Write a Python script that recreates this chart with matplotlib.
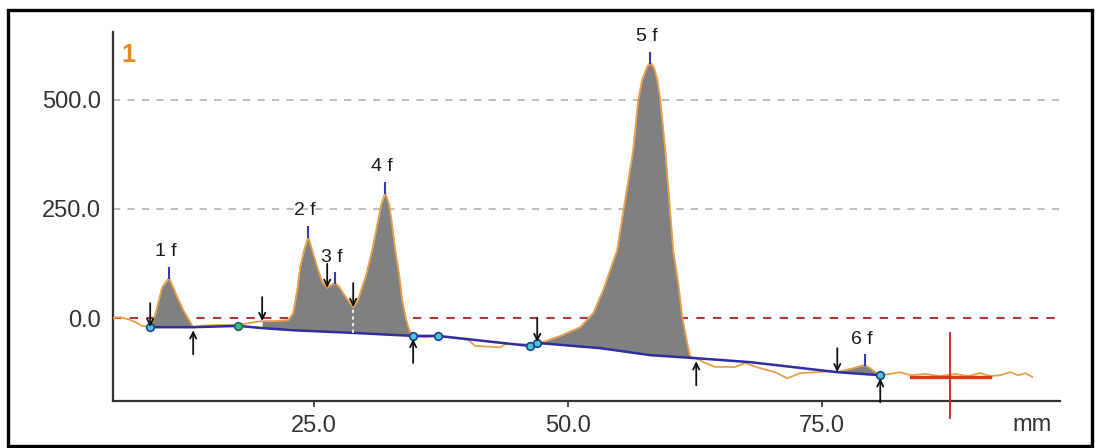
import numpy as np
import matplotlib
matplotlib.use("Agg")
import matplotlib.pyplot as plt
from matplotlib.patches import Rectangle

# ---------------- data ----------------
signal_mm = [5.22, 5.91, 6.59, 7.38, 8.07, 8.86,
             9.35, 10.04, 10.73, 11.52, 12.20, 12.80, 13.09,
             13.78, 15.26, 17.52, 18.70, 19.88, 21.16, 22.44,
             22.93, 23.33, 23.62, 24.02, 24.41, 24.80, 25.30, 25.79, 26.28,
             26.67, 27.07, 27.46, 27.85, 28.54, 28.84,
             29.23, 29.53, 30.12, 30.71, 31.20, 31.59, 31.99, 32.38, 32.68, 32.97,
             33.37, 33.66, 34.06, 34.45, 34.74,
             35.93, 37.20, 38.88, 40.16, 40.85, 43.31, 43.80, 46.26, 46.95,
             47.54, 49.21, 51.18, 52.46, 53.44, 54.13, 54.82, 55.61, 56.40, 56.89,
             57.28, 57.78, 58.07, 58.46, 58.76, 59.06, 59.55, 59.94, 60.33, 60.83,
             61.22, 61.71, 62.01, 62.60,
             63.48, 64.47, 66.44, 67.42, 68.90, 70.37, 71.56, 72.83, 74.51, 75.79, 76.48,
             77.26, 78.05, 78.74, 79.23, 79.72, 80.22, 80.71,
             81.69, 82.68, 83.66, 85.14, 86.61, 88.09, 89.37, 90.55, 91.54, 92.52,
             93.50, 94.29, 94.98, 95.67]
signal_val = [0, 2, -2, -9, -18, -21,
              7, 71, 92, 48, 14, -9, -21,
              -18, -16, -16, -11, -7, -7, -5,
              11, 64, 117, 156, 186, 156, 117, 83, 69,
              76, 80, 71, 57, 34, 25,
              37, 57, 99, 156, 213, 259, 287, 259, 213, 156,
              99, 41, -5, -34, -41,
              -44, -41, -46, -50, -64, -67, -60, -60, -55,
              -55, -41, -21, 11, 64, 110, 156, 271, 385, 500,
              546, 576, 585, 573, 546, 500, 385, 271, 156, 80,
              2, -57, -89, -92,
              -103, -112, -112, -103, -115, -124, -138, -126, -124, -122, -124,
              -119, -115, -110, -108, -115, -124, -131,
              -128, -124, -131, -128, -133, -128, -133, -126, -133, -131,
              -124, -131, -126, -135]

baseline_mm = [8.86, 13.09, 17.52, 19.88, 22.93, 28.84, 34.74, 37.20,
               46.26, 46.95, 53.15, 58.07, 62.60, 67.90, 76.48, 80.71]
baseline_val = [-21, -21, -18, -23, -28, -34, -41, -41,
                -64, -57, -69, -85, -92, -101, -124, -131]

peak_regions = [(8.86, 13.09), (19.88, 34.74), (46.95, 62.60), (76.48, 80.71)]

peak_labels = ["1 f", "2 f", "3 f", "4 f", "5 f", "6 f"]
peak_mm = [10.73, 24.41, 27.07, 31.99, 58.07, 79.23]
peak_val = [92, 186, 80, 287, 585, -108]

start_mm = [8.86, 19.88, 26.28, 28.84, 46.95, 76.48]   # down arrows
end_mm = [13.09, 34.74, 62.60, 80.71]                  # up arrows
drop_mm = [28.84]

marker_mm = [8.86, 34.74, 37.20, 46.26, 46.95, 80.71]
green_marker_mm = [17.52]

x_ticks = [25, 50, 75]
x_ticklabels = ["25.0", "50.0", "75.0"]
y_ticks = [0, 250, 500]
y_ticklabels = ["0.0", "250.0", "500.0"]

cursor_mm = 87.6
cursor_hspan = (83.7, 91.5)
cursor_val = -135

# ---------------- figure ----------------
plt.rcParams['font.family'] = ['Liberation Sans', 'DejaVu Sans']
W, H = 1099, 448
fig = plt.figure(figsize=(W / 100, H / 100), dpi=100)
fig.patch.set_facecolor('white')
ax = fig.add_axes([113 / W, 1 - 401 / H, (1060 - 113) / W, (401 - 32) / H])
ax.set_xlim(5.2, 98.4)
ax.set_ylim(-190, 655)

for s in ['top', 'right']:
    ax.spines[s].set_visible(False)
for s in ['left', 'bottom']:
    ax.spines[s].set_linewidth(1.6)
    ax.spines[s].set_color('#333333')

ax.set_xticks(x_ticks)
ax.set_xticklabels(x_ticklabels)
ax.set_yticks(y_ticks)
ax.set_yticklabels(y_ticklabels)
ax.tick_params(axis='x', length=4, width=1.2, color='#333333', pad=6,
               labelsize=17, labelcolor='#333333')
ax.tick_params(axis='y', length=0, pad=8.5, labelsize=17, labelcolor='#333333')

# gridlines
for v in y_ticks[1:]:
    ax.axhline(v, color='#b8b8b8', lw=1.3, ls=(0, (4, 4)), zorder=1)
ax.axhline(0, color='#b03838', lw=1.5, ls=(0, (4, 4)), zorder=1)

sx = np.array(signal_mm)
sv = np.array(signal_val)
bx = np.array(baseline_mm)
bv = np.array(baseline_val)

# filled peak areas
for a, b in peak_regions:
    m = (sx >= a - 1e-9) & (sx <= b + 1e-9)
    ax.fill_between(sx[m], sv[m], np.interp(sx[m], bx, bv),
                    color='#808080', lw=0, zorder=2)

# signal trace
ax.plot(sx, sv, color='#e8a048', lw=1.3, zorder=3)
# baseline
ax.plot(bx, bv, color='#2e2e9e', lw=1.8, zorder=4)

# drop lines
for x in drop_mm:
    ax.plot([x, x], [np.interp(x, bx, bv), np.interp(x, sx, sv)],
            color='white', lw=1.2, ls=(0, (2, 2)), zorder=4)

# markers
ax.plot(marker_mm, np.interp(marker_mm, bx, bv), 'o', ms=5.5,
        mfc='#48c8d0', mec='#204090', mew=1.2, zorder=6)
ax.plot(green_marker_mm, np.interp(green_marker_mm, bx, bv), 'o', ms=5.5,
        mfc='#30c080', mec='#206060', mew=1.2, zorder=6)

# peak tick marks and labels
for lab, x, v in zip(peak_labels, peak_mm, peak_val):
    ax.plot([x, x], [v, v + 23], color='#3a3ab0', lw=1.5, zorder=5)
    ax.annotate(lab, xy=(x, v), xytext=(-3, 26), textcoords='offset pixels',
                ha='center', va='center', fontsize=14, color='#1a1a1a',
                zorder=7)

# start (down) arrows
arr = dict(arrowstyle='->,head_length=0.45,head_width=0.22', color='#111111',
           lw=1.3, shrinkA=0, shrinkB=0)
for x in start_mm:
    tip = np.interp(x, sx, sv)
    ax.annotate('', xy=(x, tip), xytext=(x, tip + 55), arrowprops=arr, zorder=7)
# end (up) arrows
for x in end_mm:
    tip = np.interp(x, bx, bv) - 7
    ax.annotate('', xy=(x, tip), xytext=(x, tip - 55), arrowprops=arr, zorder=7)

# cursor cross
ax.plot(list(cursor_hspan), [cursor_val, cursor_val], color='#e03a12', lw=2.4,
        zorder=5)
ax.plot([cursor_mm, cursor_mm], [-34, -229], color='#c83232', lw=1.4,
        zorder=5, clip_on=False)

# texts
ax.text(0.016, 0.938, "1", transform=ax.transAxes, color='#e8871e',
        fontsize=18, fontweight='bold', ha='center', va='center')
ax.text(0.971, -0.065, "mm", transform=ax.transAxes, color='#333333',
        fontsize=17, ha='center', va='center')

# outer frame
fig.patches.append(Rectangle((8 / W, 2 / H), 1084 / W, 436 / H,
                             transform=fig.transFigure, fill=False,
                             edgecolor='black', lw=2.4))

fig.savefig('out.png', dpi=100)
